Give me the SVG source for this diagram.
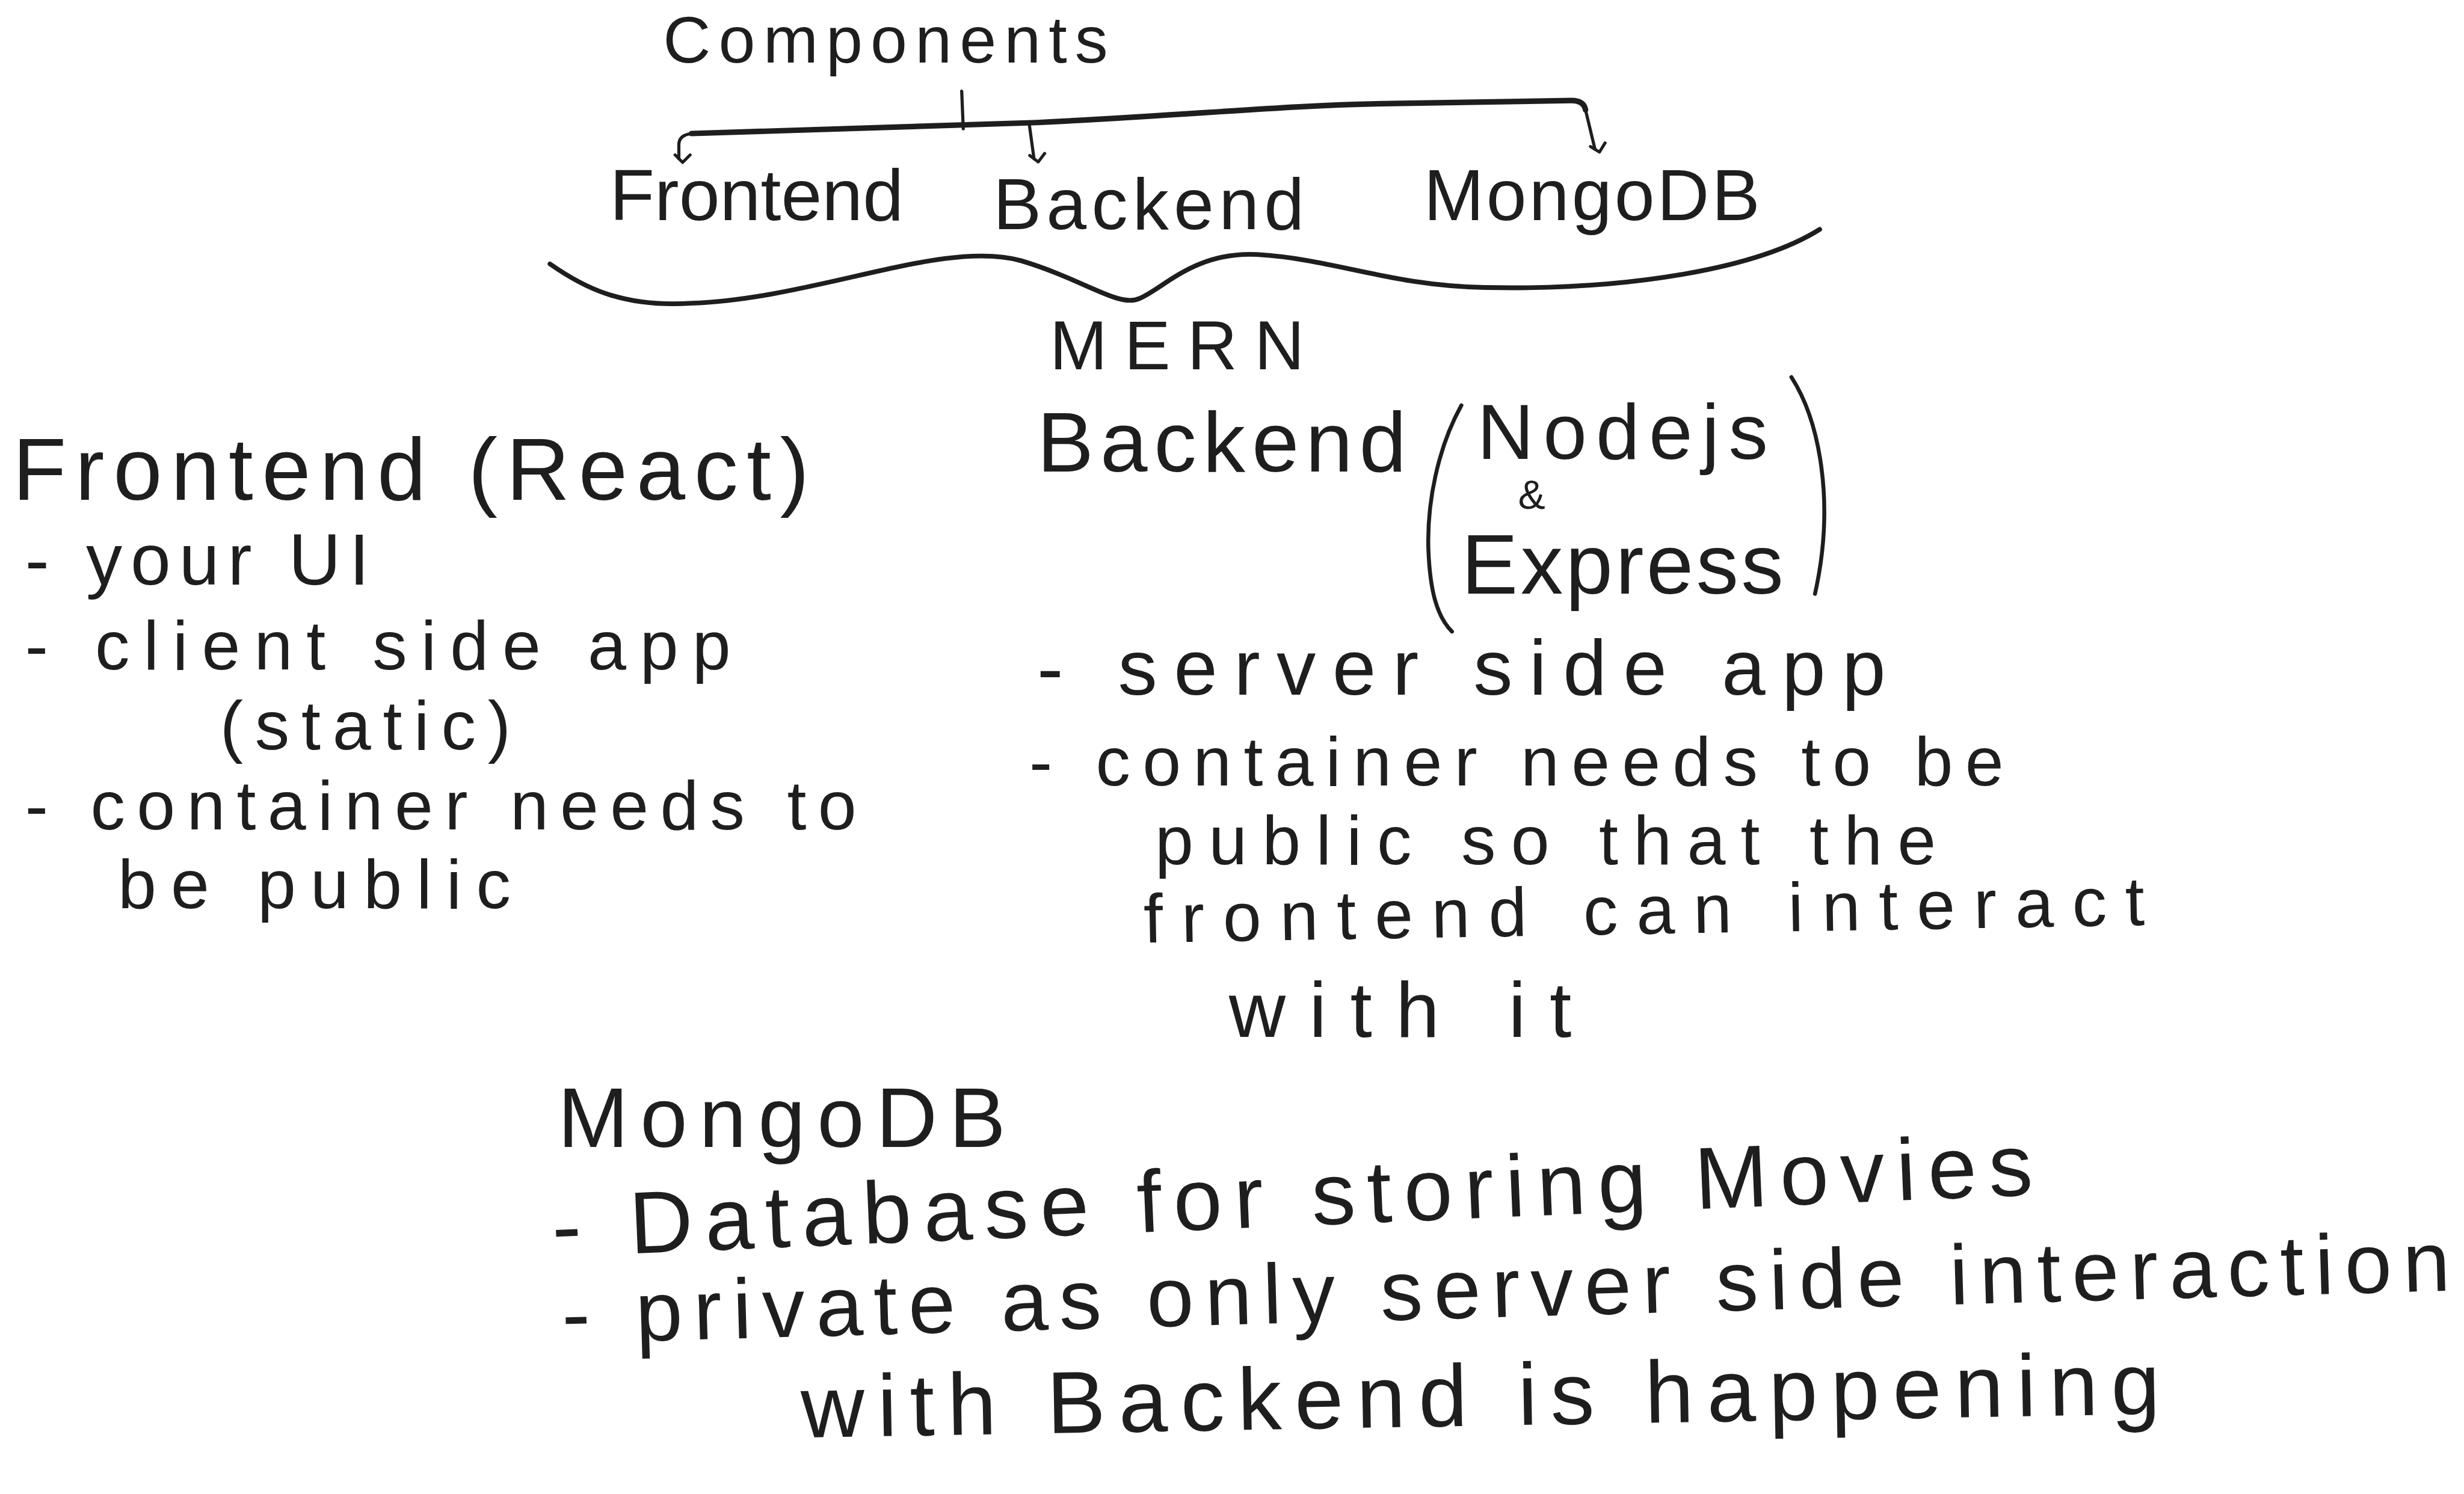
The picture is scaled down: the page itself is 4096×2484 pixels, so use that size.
<svg xmlns="http://www.w3.org/2000/svg" width="4096" height="2484" viewBox="0 0 4096 2484">
<defs>
<style>
text{font-family:"Liberation Sans","DejaVu Sans",sans-serif;fill:#1e1e1e;}
.ln{fill:none;stroke:#1e1e1e;stroke-linecap:round;stroke-linejoin:round;}
</style>
<marker id="ah" viewBox="0 0 10 10" refX="5" refY="7" markerWidth="12" markerHeight="12" markerUnits="userSpaceOnUse" orient="auto-start-reverse">
<path d="M1,3 L5,7 L9,3" fill="none" stroke="#1e1e1e" stroke-width="1.6" stroke-linecap="round" stroke-linejoin="round" transform="rotate(-90 5 5)"/>
</marker>
</defs>
<rect width="4096" height="2484" fill="#ffffff"/>
<g transform="scale(2.6122)">
<g id="connectors">
<path class="ln" stroke-width="2" d="M612,58 L613,82"/>
<path class="ln" stroke-width="3.5" d="M440,85 C520,82 600,80 660,78 C760,73 820,67 880,66 L1000,64 Q1008,64 1009,70"/>
<path class="ln" stroke-width="2" d="M440,85 Q432,86 432,92 L432,101" marker-end="url(#ah)"/>
<path class="ln" stroke-width="2" d="M655,79 L658,101" marker-end="url(#ah)"/>
<path class="ln" stroke-width="2" d="M1009,70 L1015,95" marker-end="url(#ah)"/>
<path id="brace" class="ln" stroke-width="3" d="M350,168 C370,182 395,196 440,193 C520,190 600,152 650,166 C690,178 712,196 725,190 C740,184 760,160 800,162 C850,165 885,182 945,183 C1040,185 1120,170 1158,146"/>
</g>
<g id="node-components"><text x="422" y="40" font-size="42" textLength="283" lengthAdjust="spacing">Components</text></g>
<g id="node-frontend"><text x="388" y="140" font-size="46" textLength="187" lengthAdjust="spacingAndGlyphs">Frontend</text></g>
<g id="node-backend"><text x="632" y="146" font-size="46" textLength="198" lengthAdjust="spacing">Backend</text></g>
<g id="node-mongodb"><text x="906" y="140" font-size="46" textLength="214" lengthAdjust="spacing">MongoDB</text></g>
<g id="node-mern"><text x="668" y="235" font-size="44" textLength="162" lengthAdjust="spacing">MERN</text></g>
<g id="note-frontend">
<text x="8" y="318" font-size="56" textLength="507" lengthAdjust="spacing">Frontend (React)</text>
<text x="16" y="372" font-size="46" textLength="219" lengthAdjust="spacing">- your UI</text>
<text x="16" y="426" font-size="44" textLength="449" lengthAdjust="spacing">- client side app</text>
<text x="140" y="477" font-size="44" textLength="185" lengthAdjust="spacing">(static)</text>
<text x="16" y="528" font-size="44" textLength="529" lengthAdjust="spacing">- container needs to</text>
<text x="75" y="578" font-size="44" textLength="250" lengthAdjust="spacing">be public</text>
</g>
<g id="note-backend">
<text x="660" y="300" font-size="54" textLength="235" lengthAdjust="spacing">Backend</text>
<path class="ln" stroke-width="2.5" d="M930,258 C915,285 908,320 909,350 C910,375 914,392 924,402"/>
<path class="ln" stroke-width="2.5" d="M1140,240 C1158,268 1168,320 1155,378"/>
<text x="940" y="292" font-size="50" textLength="185" lengthAdjust="spacing">Nodejs</text>
<text x="966" y="324" font-size="26">&amp;</text>
<text x="930" y="378" font-size="54" textLength="205" lengthAdjust="spacing">Express</text>
<text x="660" y="442" font-size="50" textLength="540" lengthAdjust="spacing">- server side app</text>
<text x="655" y="500" font-size="44" textLength="620" lengthAdjust="spacing">- container needs to be</text>
<text x="735" y="550" font-size="44" textLength="497" lengthAdjust="spacing">public so that the</text>
<text x="728" y="600" font-size="44" textLength="637" lengthAdjust="spacing" transform="rotate(-1 728 600)">frontend can interact</text>
<text x="782" y="660" font-size="50" textLength="218" lengthAdjust="spacing">with it</text>
</g>
<g id="note-mongodb">
<text x="355" y="730" font-size="54" textLength="285" lengthAdjust="spacing">MongoDB</text>
<text x="352" y="800" font-size="56" textLength="943" lengthAdjust="spacing" transform="rotate(-2.4 352 800)">- Database for storing Movies</text>
<text x="358" y="855" font-size="54" textLength="1202" lengthAdjust="spacing" transform="rotate(-1.6 358 855)">- private as only server side interaction</text>
<text x="510" y="915" font-size="56" textLength="865" lengthAdjust="spacing" transform="rotate(-1 510 915)">with Backend is happening</text>
</g>
</g>
</svg>
